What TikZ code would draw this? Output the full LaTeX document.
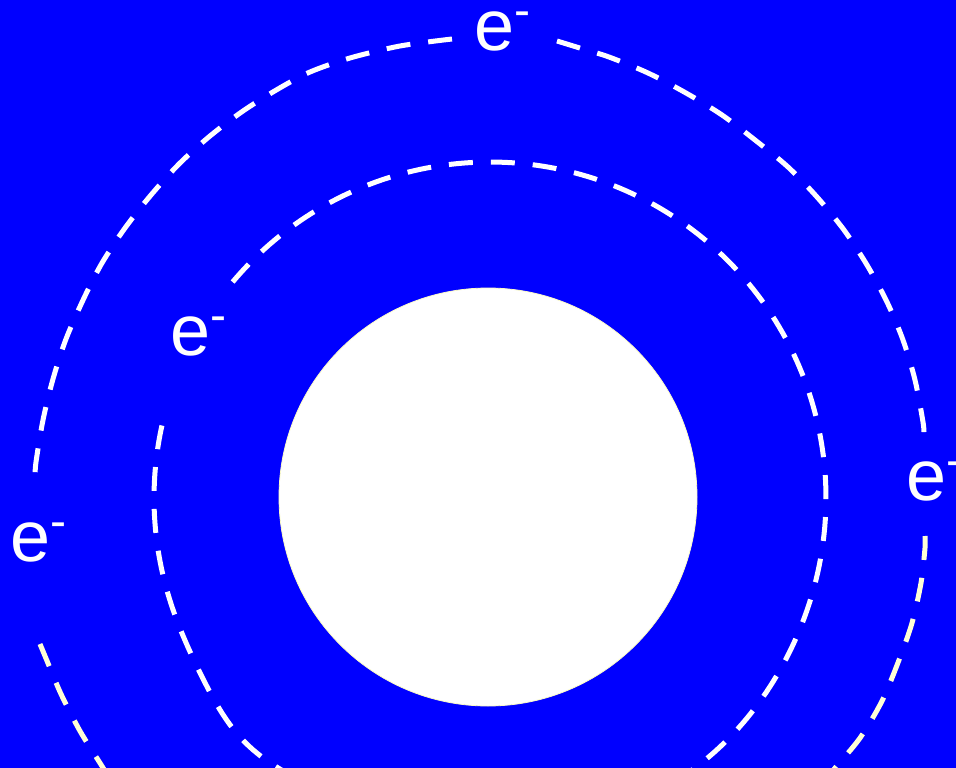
\documentclass[tikz,border=0pt]{standalone}
\usepackage{fontspec}
\setmainfont{Liberation Sans}
\definecolor{bgblue}{RGB}{0,0,255}
\definecolor{cream}{RGB}{255,255,214}
\definecolor{rimyellow}{RGB}{250,250,200}
\begin{document}
\begin{tikzpicture}[x=1pt,y=-1pt,
  orbit/.style={line width=5pt, dash pattern=on 24pt off 18pt},
  elabel/.style={inner sep=0pt, anchor=base west, text=white,
    font=\fontsize{72}{80}\selectfont}]
\useasboundingbox (0,0) rectangle (956,768);
\clip (0,0) rectangle (956,768);
\fill[bgblue] (0,0) rectangle (956,768);
% nucleus
\filldraw[fill=white, draw=rimyellow, line width=0.8pt] (488,497) circle[radius=209];
% inner orbit
\draw[orbit, white] plot[domain=220:553.5, samples=300]
  ({490+(336+10*exp(-((\x-495)/12)^2)+3*exp(-((\x-410)/20)^2))*cos(\x)},
   {498+(336+10*exp(-((\x-495)/12)^2)+3*exp(-((\x-410)/20)^2))*sin(\x)});
% outer orbit, top-left piece
\draw[orbit, white] plot[smooth] coordinates {(452,39) (400,46) (350,58) (310,72) (278,89) (243,111) (210,136) (179,164) (151,195) (125,228) (102,263) (84,298) (66,339) (53,379) (43,420) (36,462) (35,477)};
% outer orbit, top-right piece
\draw[orbit, white] plot[smooth] coordinates {(557,41) (583,49) (609,57) (648,73) (686,93) (722,115) (755,140) (788,167) (817,197) (844,230) (867,265) (887,302) (903,340) (915,380) (923,422) (924,434)};
% outer orbit, lower pieces
\draw[orbit, cream] plot[smooth] coordinates {(925,536) (925,548) (921,583) (912,623) (899,660) (882,701) (860,738) (835,768) (815,792)};
\draw[orbit, cream] plot[smooth] coordinates {(40,644) (45,656) (61,694) (80,731) (100,763) (112,782)};
% electron labels
\node[elabel] (etop) at (474,51) {e\raisebox{24pt}{\fontsize{48}{48}\selectfont -}};
\node[elabel] (einner) at (170,355) {e\raisebox{24pt}{\fontsize{48}{48}\selectfont -}};
\node[elabel] (eright) at (906,500) {e\raisebox{24pt}{\fontsize{48}{48}\selectfont -}};
\node[elabel] (eleft) at (10,561) {e\raisebox{24pt}{\fontsize{48}{48}\selectfont -}};
\end{tikzpicture}
\end{document}
